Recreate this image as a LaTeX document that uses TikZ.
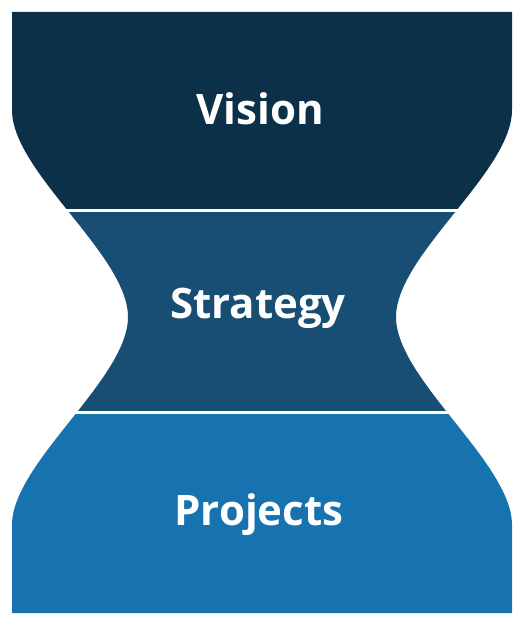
\documentclass[tikz,border=0pt]{standalone}
\usepackage{fontspec}
\setmainfont{Open Sans}
\definecolor{topc}{HTML}{0D3049}
\definecolor{midc}{HTML}{184E73}
\definecolor{botc}{HTML}{1773B0}
\tikzset{lbl/.style={text=white, font=\fontsize{42}{48}\selectfont\bfseries, anchor=base, inner sep=0pt}}
\begin{document}
\begin{tikzpicture}[x=1pt,y=-1pt]
\useasboundingbox (0,0) rectangle (525,628);
\begin{scope}
\clip (12,12) -- (12,110) .. controls (12,172) and (128,255) .. (128,317)
  .. controls (128,379) and (12,463) .. (12,525) -- (12,613) -- (512,613)
  -- (512,525) .. controls (512,463) and (396,379) .. (396,317)
  .. controls (396,255) and (512,172) .. (512,110) -- (512,12) -- cycle;
\fill[topc] (0,0) rectangle (525,210.5);
\fill[midc] (0,210.5) rectangle (525,412.5);
\fill[botc] (0,412.5) rectangle (525,628);
\end{scope}
\draw[white, line width=3] (0,210.5) -- (525,210.5);
\draw[white, line width=3] (0,412.5) -- (525,412.5);
\node[lbl] (vision) at (260,125) {Vision};
\node[lbl] (strategy) at (258,318) {Strategy};
\node[lbl] (projects) at (259,525) {Projects};
\end{tikzpicture}
\end{document}
